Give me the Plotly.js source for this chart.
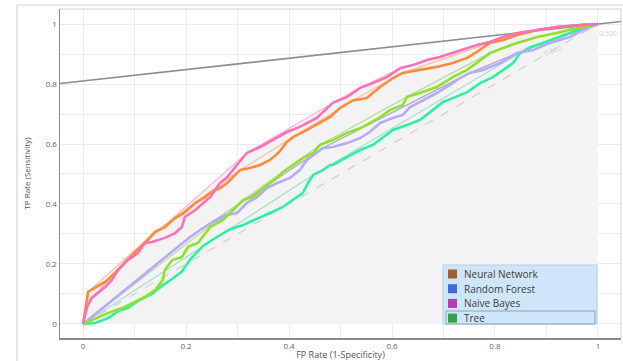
<!DOCTYPE html>
<html>
<head>
<meta charset="utf-8">
<script src="https://cdn.plot.ly/plotly-3.0.1.min.js"></script>
<style>
  html, body { margin: 0; padding: 0; background: #ffffff; }
  #chart { width: 623px; height: 361px; }
</style>
</head>
<body>
<div id="chart"></div>
<script>
// ---------- data ----------
const orangeFpr = [0,0.01,0.023,0.043,0.062,0.082,0.101,0.12,0.14,0.159,0.179,0.198,0.218,0.237,0.247,0.266,0.28,0.299,0.305,0.324,0.344,0.363,0.379,0.396,0.408,0.435,0.46,0.48,0.499,0.524,0.551,0.563,0.577,0.602,0.621,0.654,0.687,0.718,0.746,0.765,0.79,0.816,0.843,0.882,0.92,0.971,1];
const orangeTpr = [0,0.107,0.12,0.14,0.17,0.207,0.24,0.27,0.307,0.323,0.353,0.373,0.403,0.423,0.437,0.453,0.47,0.503,0.513,0.52,0.53,0.547,0.57,0.607,0.623,0.647,0.67,0.69,0.72,0.745,0.753,0.77,0.79,0.82,0.837,0.847,0.857,0.87,0.887,0.907,0.937,0.947,0.963,0.98,0.99,0.997,1];

const pinkFpr = [0,0.008,0.017,0.029,0.043,0.056,0.068,0.087,0.107,0.12,0.134,0.159,0.179,0.192,0.198,0.218,0.237,0.247,0.266,0.28,0.299,0.318,0.344,0.369,0.396,0.421,0.454,0.485,0.513,0.538,0.563,0.59,0.616,0.641,0.668,0.693,0.718,0.746,0.765,0.79,0.816,0.843,0.882,0.92,0.971,1];
const pinkTpr = [0,0.057,0.087,0.103,0.123,0.147,0.18,0.213,0.237,0.27,0.273,0.287,0.303,0.323,0.357,0.38,0.407,0.423,0.47,0.49,0.53,0.57,0.59,0.613,0.64,0.657,0.687,0.737,0.757,0.787,0.803,0.823,0.853,0.863,0.88,0.89,0.903,0.92,0.93,0.94,0.957,0.97,0.98,0.99,0.997,1];

const greenFpr = [0,0.023,0.049,0.076,0.101,0.12,0.14,0.155,0.159,0.173,0.192,0.204,0.223,0.247,0.272,0.291,0.311,0.33,0.35,0.377,0.388,0.402,0.427,0.447,0.46,0.485,0.513,0.544,0.577,0.596,0.621,0.629,0.654,0.687,0.718,0.746,0.765,0.79,0.816,0.843,0.882,0.92,0.959,1];
const greenTpr = [0,0.017,0.037,0.053,0.073,0.09,0.113,0.147,0.18,0.213,0.223,0.257,0.27,0.323,0.347,0.38,0.413,0.423,0.453,0.487,0.507,0.523,0.553,0.57,0.597,0.613,0.637,0.657,0.69,0.713,0.73,0.757,0.77,0.79,0.823,0.847,0.87,0.903,0.92,0.937,0.957,0.97,0.987,1];

const lavenderFpr = [0,0.208,0.233,0.252,0.28,0.299,0.318,0.338,0.357,0.377,0.402,0.421,0.435,0.454,0.466,0.485,0.513,0.538,0.557,0.577,0.602,0.621,0.635,0.654,0.687,0.718,0.732,0.751,0.777,0.81,0.843,0.874,0.907,0.946,0.971,1];
const lavenderTpr = [0,0.29,0.32,0.34,0.363,0.37,0.403,0.423,0.453,0.47,0.487,0.513,0.547,0.57,0.587,0.59,0.603,0.62,0.64,0.67,0.687,0.697,0.723,0.74,0.77,0.803,0.82,0.837,0.847,0.87,0.903,0.913,0.937,0.957,0.98,1];

const mintFpr = [0,0.023,0.049,0.068,0.087,0.107,0.134,0.153,0.173,0.192,0.208,0.233,0.26,0.285,0.311,0.338,0.363,0.388,0.408,0.427,0.437,0.447,0.466,0.48,0.485,0.513,0.538,0.563,0.583,0.602,0.629,0.654,0.679,0.699,0.718,0.746,0.771,0.796,0.821,0.835,0.849,0.868,0.893,0.919,0.944,0.971,1];
const mintTpr = [0,0.003,0.02,0.043,0.053,0.077,0.1,0.127,0.15,0.175,0.215,0.26,0.29,0.315,0.33,0.35,0.37,0.39,0.413,0.437,0.47,0.497,0.513,0.53,0.53,0.557,0.58,0.597,0.623,0.647,0.663,0.68,0.713,0.74,0.753,0.773,0.803,0.823,0.853,0.87,0.903,0.923,0.937,0.953,0.97,0.987,1];

const xTickVals = [0, 0.2, 0.4, 0.6, 0.8, 1];
const yTickVals = [0, 0.2, 0.4, 0.6, 0.8, 1];
const isoSlope = 0.19;            // iso-performance line through (1, 1)
const thresholdLabels = ["0.502", "0.500"];

const legendNames  = ["Neural Network", "Random Forest", "Naive Bayes", "Tree"];
const legendColors = ["#a65d2e", "#3e6cd0", "#b43cb0", "#36a047"];

// ---------- styles ----------
const curveColors = { orange: "#ff8a3d", pink: "#ff70b8", green: "#90e02c", lavender: "#b7aaf8", mint: "#2ff0a2" };
const hullColors  = { orange: "#f3c39f", pink: "#f8b6d8", green: "#bcd9a0", lavender: "#a9a6cc", mint: "#a7dccb" };

const xRange = [-0.0447, 1.0447];
const yRange = [-0.0467, 1.05];

function upperHull(xs, ys) {
  const pts = xs.map((x, i) => [x, ys[i]]).sort((a, b) => a[0] - b[0] || a[1] - b[1]);
  const h = [];
  for (const p of pts) {
    while (h.length >= 2) {
      const o = h[h.length - 2], a = h[h.length - 1];
      const cr = (a[0] - o[0]) * (p[1] - o[1]) - (a[1] - o[1]) * (p[0] - o[0]);
      if (cr >= 0) h.pop(); else break;
    }
    h.push(p);
  }
  return { x: h.map(p => p[0]), y: h.map(p => p[1]) };
}

const curves = [
  { key: "mint", x: mintFpr, y: mintTpr },
  { key: "lavender", x: lavenderFpr, y: lavenderTpr },
  { key: "green", x: greenFpr, y: greenTpr },
  { key: "orange", x: orangeFpr, y: orangeTpr },
  { key: "pink", x: pinkFpr, y: pinkTpr }
];

const allX = [].concat(...curves.map(c => c.x));
const allY = [].concat(...curves.map(c => c.y));
const overall = upperHull(allX, allY);

const traces = [];
traces.push({ x: overall.x, y: overall.y, type: "scatter", mode: "lines", fill: "tozeroy",
  fillcolor: "#f3f3f3", line: { width: 0 }, hoverinfo: "skip", showlegend: false });
traces.push({ x: [0, 1], y: [0, 1], type: "scatter", mode: "lines",
  line: { color: "#c4c4c4", width: 1, dash: "dash" }, hoverinfo: "skip", showlegend: false });
traces.push({ x: xRange, y: xRange.map(x => 1 + isoSlope * (x - 1)), type: "scatter", mode: "lines",
  line: { color: "#8c8c8c", width: 1.6 }, hoverinfo: "skip", showlegend: false });
for (const c of curves) {
  const h = upperHull(c.x, c.y);
  traces.push({ x: h.x, y: h.y, type: "scatter", mode: "lines",
    line: { color: hullColors[c.key], width: 1.2 }, hoverinfo: "skip", showlegend: false });
}
for (const c of curves) {
  traces.push({ x: c.x, y: c.y, type: "scatter", mode: "lines",
    line: { color: curveColors[c.key], width: 2.6 }, showlegend: false });
}

// ---------- layout: pixel helpers for decoration in paper coordinates ----------
const W = 623, H = 361, mL = 60, mR = 2, mT = 9, mB = 23;
const pw = W - mL - mR, ph = H - mT - mB;
const px = v => (v - mL) / pw;
const py = v => (H - mB - v) / ph;

const shapes = [
  // widget frame
  { type: "line", xref: "paper", yref: "paper", x0: px(17), x1: px(17), y0: py(5), y1: py(361), line: { color: "#dcdcdc", width: 1.5 } },
  { type: "line", xref: "paper", yref: "paper", x0: px(17), x1: px(623), y0: py(5), y1: py(5), line: { color: "#e2e2e2", width: 1.5 } },
  // plot frame top / right
  { type: "line", xref: "paper", yref: "paper", x0: 0, x1: 1, y0: 1, y1: 1, line: { color: "#cfcfcf", width: 1 } },
  { type: "line", xref: "paper", yref: "paper", x0: 1, x1: 1, y0: 0, y1: 1, line: { color: "#cfcfcf", width: 1 } },
  // legend box
  { type: "rect", xref: "paper", yref: "paper", layer: "above", x0: px(443), x1: px(597), y0: py(324), y1: py(265),
    fillcolor: "#cfe5f9", line: { color: "#b9cfe2", width: 1 } },
  // selected item frame
  { type: "rect", xref: "paper", yref: "paper", layer: "above", x0: px(446), x1: px(595), y0: py(324), y1: py(311),
    fillcolor: "rgba(0,0,0,0)", line: { color: "#8fa4b6", width: 1 } }
];
const annotations = [];
legendNames.forEach((name, i) => {
  const cy = 274 + i * 14.7;
  shapes.push({ type: "rect", xref: "paper", yref: "paper", layer: "above",
    x0: px(448), x1: px(457), y0: py(cy + 4.5), y1: py(cy - 4.5),
    fillcolor: legendColors[i], line: { width: 0 } });
  annotations.push({ xref: "paper", yref: "paper", x: px(462), y: py(cy), text: name,
    showarrow: false, xanchor: "left", yanchor: "middle",
    font: { family: "Open Sans, DejaVu Sans, sans-serif", size: 10, color: "#3d3d3d" } });
});
annotations.push({ xref: "x", yref: "y", x: 0.913, y: 0.913, text: thresholdLabels[0], showarrow: false,
  textangle: -20, font: { family: "Open Sans, sans-serif", size: 7, color: "#cfcfcf" } });
annotations.push({ xref: "x", yref: "y", x: 0.998, y: 0.97, text: thresholdLabels[1], showarrow: false,
  xanchor: "left", font: { family: "Open Sans, sans-serif", size: 7, color: "#cfcfcf" } });

const tickFont = { family: "Open Sans, DejaVu Sans, sans-serif", size: 8, color: "#666666" };

const layout = {
  width: W, height: H,
  margin: { l: mL, r: mR, t: mT, b: mB, pad: 0 },
  paper_bgcolor: "#ffffff", plot_bgcolor: "#ffffff",
  showlegend: false,
  xaxis: {
    range: xRange, tickvals: xTickVals, ticks: "", tickfont: tickFont,
    showgrid: true, gridcolor: "#ececec", gridwidth: 1,
    minor: { dtick: 0.1, tick0: 0, showgrid: true, gridcolor: "#ececec", gridwidth: 1 },
    zeroline: false, showline: true, linecolor: "#8a8a8a", linewidth: 1.5,
    title: { text: "FP Rate (1-Specificity)", font: { family: "Open Sans, DejaVu Sans, sans-serif", size: 9, color: "#555555" }, standoff: 10 },
    fixedrange: true
  },
  yaxis: {
    range: yRange, tickvals: yTickVals, ticks: "", tickfont: tickFont,
    showgrid: true, gridcolor: "#ececec", gridwidth: 1,
    minor: { dtick: 0.1, tick0: 0, showgrid: true, gridcolor: "#ececec", gridwidth: 1 },
    zeroline: false, showline: true, linecolor: "#8a8a8a", linewidth: 1.5,
    title: { text: "TP Rate (Sensitivity)", font: { family: "Open Sans, DejaVu Sans, sans-serif", size: 8, color: "#555555" }, standoff: 14 },
    fixedrange: true
  },
  shapes: shapes,
  annotations: annotations
};

Plotly.newPlot("chart", traces, layout, { displayModeBar: false, staticPlot: true });
</script>
</body>
</html>
